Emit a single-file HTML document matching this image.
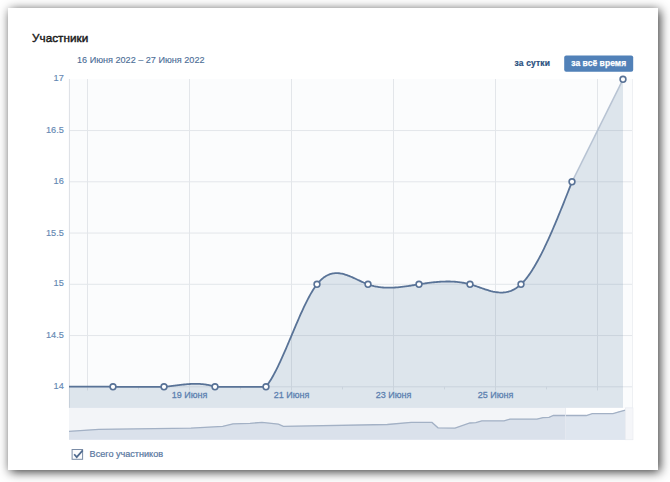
<!DOCTYPE html>
<html><head><meta charset="utf-8"><style>
html,body{margin:0;padding:0;background:#fff;}
body{width:670px;height:482px;overflow:hidden;position:relative;font-family:"Liberation Sans",sans-serif;}
.card{position:absolute;left:8px;top:8px;width:650px;height:462px;background:#fff;box-shadow:2px 2px 10px rgba(0,0,0,0.79);}
svg{position:absolute;left:0;top:0;}
text{font-family:"Liberation Sans",sans-serif;}
</style></head><body>
<div class="card"></div>
<svg width="670" height="482" viewBox="0 0 670 482">
<rect x="69.0" y="79.0" width="564.0" height="328.9" fill="#fbfcfd"/>
<line x1="69.0" x2="633.0" y1="130.55" y2="130.55" stroke="#e3e6ea" stroke-width="1"/>
<line x1="69.0" x2="633.0" y1="181.80" y2="181.80" stroke="#e3e6ea" stroke-width="1"/>
<line x1="69.0" x2="633.0" y1="233.05" y2="233.05" stroke="#e3e6ea" stroke-width="1"/>
<line x1="69.0" x2="633.0" y1="284.30" y2="284.30" stroke="#e3e6ea" stroke-width="1"/>
<line x1="69.0" x2="633.0" y1="335.55" y2="335.55" stroke="#e3e6ea" stroke-width="1"/>
<line x1="69.0" x2="633.0" y1="386.80" y2="386.80" stroke="#e2e5ea" stroke-width="1"/>
<line x1="87.5" x2="87.5" y1="79.0" y2="390.5" stroke="#e3e6ea" stroke-width="1"/>
<line x1="189.5" x2="189.5" y1="79.0" y2="390.5" stroke="#e3e6ea" stroke-width="1"/>
<line x1="291.5" x2="291.5" y1="79.0" y2="390.5" stroke="#e3e6ea" stroke-width="1"/>
<line x1="393.5" x2="393.5" y1="79.0" y2="390.5" stroke="#e3e6ea" stroke-width="1"/>
<line x1="495.5" x2="495.5" y1="79.0" y2="390.5" stroke="#e3e6ea" stroke-width="1"/>
<line x1="597.5" x2="597.5" y1="79.0" y2="390.5" stroke="#e3e6ea" stroke-width="1"/>
<line x1="138.5" x2="138.5" y1="386.80" y2="389.40" stroke="#e3e6ea" stroke-width="1"/>
<line x1="240.5" x2="240.5" y1="386.80" y2="389.40" stroke="#e3e6ea" stroke-width="1"/>
<line x1="342.5" x2="342.5" y1="386.80" y2="389.40" stroke="#e3e6ea" stroke-width="1"/>
<line x1="444.5" x2="444.5" y1="386.80" y2="389.40" stroke="#e3e6ea" stroke-width="1"/>
<line x1="546.5" x2="546.5" y1="386.80" y2="389.40" stroke="#e3e6ea" stroke-width="1"/>
<line x1="69.4" x2="69.4" y1="79.0" y2="407.9" stroke="#dcdfe5" stroke-width="1"/>
<line x1="632.5" x2="632.5" y1="79.0" y2="407.9" stroke="#eef0f3" stroke-width="1"/>
<path d="M69.0,386.71 L70.0,386.70 L71.0,386.69 L72.0,386.67 L73.0,386.66 L74.0,386.65 L75.0,386.64 L76.0,386.63 L77.0,386.62 L78.0,386.61 L79.0,386.60 L80.0,386.59 L81.0,386.59 L82.0,386.58 L83.0,386.57 L84.0,386.57 L85.0,386.56 L86.0,386.55 L87.0,386.55 L88.0,386.55 L89.0,386.54 L90.0,386.54 L91.0,386.54 L92.0,386.54 L93.0,386.54 L94.0,386.55 L95.0,386.55 L96.0,386.55 L97.0,386.56 L98.0,386.56 L99.0,386.57 L100.0,386.58 L101.0,386.59 L102.0,386.60 L103.0,386.61 L104.0,386.62 L105.0,386.64 L106.0,386.65 L107.0,386.67 L108.0,386.69 L109.0,386.71 L110.0,386.73 L111.0,386.75 L112.0,386.77 L113.0,386.80 L114.0,386.80 L115.0,386.80 L116.0,386.80 L117.0,386.80 L118.0,386.80 L119.0,386.80 L120.0,386.80 L121.0,386.80 L122.0,386.80 L123.0,386.80 L124.0,386.80 L125.0,386.80 L126.0,386.80 L127.0,386.80 L128.0,386.80 L129.0,386.80 L130.0,386.80 L131.0,386.80 L132.0,386.80 L133.0,386.80 L134.0,386.80 L135.0,386.80 L136.0,386.80 L137.0,386.80 L138.0,386.80 L139.0,386.80 L140.0,386.80 L141.0,386.80 L142.0,386.80 L143.0,386.80 L144.0,386.80 L145.0,386.80 L146.0,386.80 L147.0,386.80 L148.0,386.80 L149.0,386.80 L150.0,386.80 L151.0,386.80 L152.0,386.80 L153.0,386.80 L154.0,386.80 L155.0,386.80 L156.0,386.80 L157.0,386.80 L158.0,386.80 L159.0,386.80 L160.0,386.80 L161.0,386.80 L162.0,386.80 L163.0,386.80 L164.0,386.80 L165.0,386.71 L166.0,386.60 L167.0,386.50 L168.0,386.39 L169.0,386.28 L170.0,386.16 L171.0,386.04 L172.0,385.92 L173.0,385.79 L174.0,385.67 L175.0,385.54 L176.0,385.42 L177.0,385.29 L178.0,385.17 L179.0,385.05 L180.0,384.93 L181.0,384.82 L182.0,384.71 L183.0,384.60 L184.0,384.49 L185.0,384.40 L186.0,384.31 L187.0,384.22 L188.0,384.14 L189.0,384.07 L190.0,384.01 L191.0,383.96 L192.0,383.91 L193.0,383.88 L194.0,383.85 L195.0,383.84 L196.0,383.84 L197.0,383.85 L198.0,383.88 L199.0,383.91 L200.0,383.96 L201.0,384.03 L202.0,384.11 L203.0,384.21 L204.0,384.32 L205.0,384.45 L206.0,384.60 L207.0,384.76 L208.0,384.95 L209.0,385.15 L210.0,385.37 L211.0,385.61 L212.0,385.88 L213.0,386.16 L214.0,386.47 L215.0,386.80 L216.0,386.80 L217.0,386.80 L218.0,386.80 L219.0,386.80 L220.0,386.80 L221.0,386.80 L222.0,386.80 L223.0,386.80 L224.0,386.80 L225.0,386.80 L226.0,386.80 L227.0,386.80 L228.0,386.80 L229.0,386.80 L230.0,386.80 L231.0,386.80 L232.0,386.80 L233.0,386.80 L234.0,386.80 L235.0,386.80 L236.0,386.80 L237.0,386.80 L238.0,386.80 L239.0,386.80 L240.0,386.80 L241.0,386.80 L242.0,386.80 L243.0,386.80 L244.0,386.80 L245.0,386.80 L246.0,386.80 L247.0,386.80 L248.0,386.80 L249.0,386.80 L250.0,386.80 L251.0,386.80 L252.0,386.80 L253.0,386.80 L254.0,386.80 L255.0,386.80 L256.0,386.80 L257.0,386.80 L258.0,386.80 L259.0,386.80 L260.0,386.80 L261.0,386.80 L262.0,386.80 L263.0,386.80 L264.0,386.80 L265.0,386.80 L266.0,386.80 L267.0,385.48 L268.0,384.09 L269.0,382.61 L270.0,381.05 L271.0,379.43 L272.0,377.73 L273.0,375.97 L274.0,374.14 L275.0,372.25 L276.0,370.31 L277.0,368.32 L278.0,366.28 L279.0,364.19 L280.0,362.06 L281.0,359.88 L282.0,357.68 L283.0,355.44 L284.0,353.17 L285.0,350.88 L286.0,348.56 L287.0,346.23 L288.0,343.88 L289.0,341.52 L290.0,339.15 L291.0,336.78 L292.0,334.40 L293.0,332.03 L294.0,329.66 L295.0,327.29 L296.0,324.94 L297.0,322.61 L298.0,320.29 L299.0,318.00 L300.0,315.73 L301.0,313.49 L302.0,311.28 L303.0,309.11 L304.0,306.97 L305.0,304.88 L306.0,302.83 L307.0,300.84 L308.0,298.89 L309.0,297.00 L310.0,295.17 L311.0,293.40 L312.0,291.70 L313.0,290.07 L314.0,288.51 L315.0,287.03 L316.0,285.62 L317.0,284.30 L318.0,283.06 L319.0,281.91 L320.0,280.84 L321.0,279.85 L322.0,278.94 L323.0,278.10 L324.0,277.34 L325.0,276.65 L326.0,276.02 L327.0,275.47 L328.0,274.98 L329.0,274.55 L330.0,274.18 L331.0,273.87 L332.0,273.62 L333.0,273.42 L334.0,273.28 L335.0,273.18 L336.0,273.14 L337.0,273.14 L338.0,273.18 L339.0,273.26 L340.0,273.39 L341.0,273.55 L342.0,273.74 L343.0,273.97 L344.0,274.24 L345.0,274.53 L346.0,274.84 L347.0,275.18 L348.0,275.55 L349.0,275.93 L350.0,276.33 L351.0,276.75 L352.0,277.19 L353.0,277.63 L354.0,278.09 L355.0,278.55 L356.0,279.02 L357.0,279.49 L358.0,279.96 L359.0,280.43 L360.0,280.90 L361.0,281.37 L362.0,281.82 L363.0,282.27 L364.0,282.71 L365.0,283.13 L366.0,283.54 L367.0,283.93 L368.0,284.30 L369.0,284.65 L370.0,284.98 L371.0,285.28 L372.0,285.57 L373.0,285.83 L374.0,286.08 L375.0,286.30 L376.0,286.51 L377.0,286.70 L378.0,286.87 L379.0,287.03 L380.0,287.16 L381.0,287.28 L382.0,287.39 L383.0,287.48 L384.0,287.55 L385.0,287.61 L386.0,287.66 L387.0,287.69 L388.0,287.71 L389.0,287.72 L390.0,287.71 L391.0,287.69 L392.0,287.66 L393.0,287.63 L394.0,287.57 L395.0,287.51 L396.0,287.45 L397.0,287.37 L398.0,287.28 L399.0,287.18 L400.0,287.08 L401.0,286.97 L402.0,286.86 L403.0,286.73 L404.0,286.60 L405.0,286.47 L406.0,286.33 L407.0,286.19 L408.0,286.04 L409.0,285.89 L410.0,285.74 L411.0,285.58 L412.0,285.42 L413.0,285.26 L414.0,285.10 L415.0,284.94 L416.0,284.78 L417.0,284.62 L418.0,284.46 L419.0,284.30 L420.0,284.14 L421.0,283.99 L422.0,283.83 L423.0,283.68 L424.0,283.53 L425.0,283.39 L426.0,283.25 L427.0,283.11 L428.0,282.97 L429.0,282.84 L430.0,282.72 L431.0,282.60 L432.0,282.48 L433.0,282.37 L434.0,282.26 L435.0,282.16 L436.0,282.07 L437.0,281.98 L438.0,281.90 L439.0,281.82 L440.0,281.75 L441.0,281.69 L442.0,281.64 L443.0,281.59 L444.0,281.55 L445.0,281.53 L446.0,281.51 L447.0,281.49 L448.0,281.49 L449.0,281.50 L450.0,281.52 L451.0,281.54 L452.0,281.58 L453.0,281.63 L454.0,281.69 L455.0,281.75 L456.0,281.83 L457.0,281.93 L458.0,282.03 L459.0,282.15 L460.0,282.28 L461.0,282.42 L462.0,282.57 L463.0,282.74 L464.0,282.92 L465.0,283.11 L466.0,283.32 L467.0,283.54 L468.0,283.78 L469.0,284.03 L470.0,284.30 L471.0,284.58 L472.0,284.88 L473.0,285.19 L474.0,285.50 L475.0,285.83 L476.0,286.17 L477.0,286.51 L478.0,286.86 L479.0,287.21 L480.0,287.56 L481.0,287.91 L482.0,288.26 L483.0,288.60 L484.0,288.94 L485.0,289.28 L486.0,289.61 L487.0,289.92 L488.0,290.23 L489.0,290.53 L490.0,290.81 L491.0,291.08 L492.0,291.32 L493.0,291.56 L494.0,291.77 L495.0,291.96 L496.0,292.12 L497.0,292.26 L498.0,292.38 L499.0,292.47 L500.0,292.53 L501.0,292.55 L502.0,292.55 L503.0,292.51 L504.0,292.44 L505.0,292.33 L506.0,292.18 L507.0,291.99 L508.0,291.76 L509.0,291.49 L510.0,291.17 L511.0,290.81 L512.0,290.40 L513.0,289.94 L514.0,289.42 L515.0,288.86 L516.0,288.24 L517.0,287.57 L518.0,286.84 L519.0,286.06 L520.0,285.21 L521.0,284.30 L522.0,283.33 L523.0,282.30 L524.0,281.20 L525.0,280.05 L526.0,278.84 L527.0,277.57 L528.0,276.25 L529.0,274.87 L530.0,273.44 L531.0,271.96 L532.0,270.43 L533.0,268.85 L534.0,267.22 L535.0,265.54 L536.0,263.82 L537.0,262.05 L538.0,260.24 L539.0,258.39 L540.0,256.49 L541.0,254.56 L542.0,252.59 L543.0,250.58 L544.0,248.54 L545.0,246.46 L546.0,244.35 L547.0,242.21 L548.0,240.03 L549.0,237.83 L550.0,235.60 L551.0,233.34 L552.0,231.05 L553.0,228.74 L554.0,226.41 L555.0,224.05 L556.0,221.67 L557.0,219.28 L558.0,216.86 L559.0,214.43 L560.0,211.98 L561.0,209.52 L562.0,207.04 L563.0,204.55 L564.0,202.05 L565.0,199.54 L566.0,197.02 L567.0,194.50 L568.0,191.97 L569.0,189.43 L570.0,186.89 L571.0,184.34 L572.0,181.80 L623.0,79.30 L623.0,407.9 L69.0,407.9 Z" fill="rgba(91,125,163,0.18)"/>
<path d="M572.0,181.80 L623.0,79.30" fill="none" stroke="#b7c3d3" stroke-width="1.5"/>
<path d="M69.0,386.71 L70.0,386.70 L71.0,386.69 L72.0,386.67 L73.0,386.66 L74.0,386.65 L75.0,386.64 L76.0,386.63 L77.0,386.62 L78.0,386.61 L79.0,386.60 L80.0,386.59 L81.0,386.59 L82.0,386.58 L83.0,386.57 L84.0,386.57 L85.0,386.56 L86.0,386.55 L87.0,386.55 L88.0,386.55 L89.0,386.54 L90.0,386.54 L91.0,386.54 L92.0,386.54 L93.0,386.54 L94.0,386.55 L95.0,386.55 L96.0,386.55 L97.0,386.56 L98.0,386.56 L99.0,386.57 L100.0,386.58 L101.0,386.59 L102.0,386.60 L103.0,386.61 L104.0,386.62 L105.0,386.64 L106.0,386.65 L107.0,386.67 L108.0,386.69 L109.0,386.71 L110.0,386.73 L111.0,386.75 L112.0,386.77 L113.0,386.80 L114.0,386.80 L115.0,386.80 L116.0,386.80 L117.0,386.80 L118.0,386.80 L119.0,386.80 L120.0,386.80 L121.0,386.80 L122.0,386.80 L123.0,386.80 L124.0,386.80 L125.0,386.80 L126.0,386.80 L127.0,386.80 L128.0,386.80 L129.0,386.80 L130.0,386.80 L131.0,386.80 L132.0,386.80 L133.0,386.80 L134.0,386.80 L135.0,386.80 L136.0,386.80 L137.0,386.80 L138.0,386.80 L139.0,386.80 L140.0,386.80 L141.0,386.80 L142.0,386.80 L143.0,386.80 L144.0,386.80 L145.0,386.80 L146.0,386.80 L147.0,386.80 L148.0,386.80 L149.0,386.80 L150.0,386.80 L151.0,386.80 L152.0,386.80 L153.0,386.80 L154.0,386.80 L155.0,386.80 L156.0,386.80 L157.0,386.80 L158.0,386.80 L159.0,386.80 L160.0,386.80 L161.0,386.80 L162.0,386.80 L163.0,386.80 L164.0,386.80 L165.0,386.71 L166.0,386.60 L167.0,386.50 L168.0,386.39 L169.0,386.28 L170.0,386.16 L171.0,386.04 L172.0,385.92 L173.0,385.79 L174.0,385.67 L175.0,385.54 L176.0,385.42 L177.0,385.29 L178.0,385.17 L179.0,385.05 L180.0,384.93 L181.0,384.82 L182.0,384.71 L183.0,384.60 L184.0,384.49 L185.0,384.40 L186.0,384.31 L187.0,384.22 L188.0,384.14 L189.0,384.07 L190.0,384.01 L191.0,383.96 L192.0,383.91 L193.0,383.88 L194.0,383.85 L195.0,383.84 L196.0,383.84 L197.0,383.85 L198.0,383.88 L199.0,383.91 L200.0,383.96 L201.0,384.03 L202.0,384.11 L203.0,384.21 L204.0,384.32 L205.0,384.45 L206.0,384.60 L207.0,384.76 L208.0,384.95 L209.0,385.15 L210.0,385.37 L211.0,385.61 L212.0,385.88 L213.0,386.16 L214.0,386.47 L215.0,386.80 L216.0,386.80 L217.0,386.80 L218.0,386.80 L219.0,386.80 L220.0,386.80 L221.0,386.80 L222.0,386.80 L223.0,386.80 L224.0,386.80 L225.0,386.80 L226.0,386.80 L227.0,386.80 L228.0,386.80 L229.0,386.80 L230.0,386.80 L231.0,386.80 L232.0,386.80 L233.0,386.80 L234.0,386.80 L235.0,386.80 L236.0,386.80 L237.0,386.80 L238.0,386.80 L239.0,386.80 L240.0,386.80 L241.0,386.80 L242.0,386.80 L243.0,386.80 L244.0,386.80 L245.0,386.80 L246.0,386.80 L247.0,386.80 L248.0,386.80 L249.0,386.80 L250.0,386.80 L251.0,386.80 L252.0,386.80 L253.0,386.80 L254.0,386.80 L255.0,386.80 L256.0,386.80 L257.0,386.80 L258.0,386.80 L259.0,386.80 L260.0,386.80 L261.0,386.80 L262.0,386.80 L263.0,386.80 L264.0,386.80 L265.0,386.80 L266.0,386.80 L267.0,385.48 L268.0,384.09 L269.0,382.61 L270.0,381.05 L271.0,379.43 L272.0,377.73 L273.0,375.97 L274.0,374.14 L275.0,372.25 L276.0,370.31 L277.0,368.32 L278.0,366.28 L279.0,364.19 L280.0,362.06 L281.0,359.88 L282.0,357.68 L283.0,355.44 L284.0,353.17 L285.0,350.88 L286.0,348.56 L287.0,346.23 L288.0,343.88 L289.0,341.52 L290.0,339.15 L291.0,336.78 L292.0,334.40 L293.0,332.03 L294.0,329.66 L295.0,327.29 L296.0,324.94 L297.0,322.61 L298.0,320.29 L299.0,318.00 L300.0,315.73 L301.0,313.49 L302.0,311.28 L303.0,309.11 L304.0,306.97 L305.0,304.88 L306.0,302.83 L307.0,300.84 L308.0,298.89 L309.0,297.00 L310.0,295.17 L311.0,293.40 L312.0,291.70 L313.0,290.07 L314.0,288.51 L315.0,287.03 L316.0,285.62 L317.0,284.30 L318.0,283.06 L319.0,281.91 L320.0,280.84 L321.0,279.85 L322.0,278.94 L323.0,278.10 L324.0,277.34 L325.0,276.65 L326.0,276.02 L327.0,275.47 L328.0,274.98 L329.0,274.55 L330.0,274.18 L331.0,273.87 L332.0,273.62 L333.0,273.42 L334.0,273.28 L335.0,273.18 L336.0,273.14 L337.0,273.14 L338.0,273.18 L339.0,273.26 L340.0,273.39 L341.0,273.55 L342.0,273.74 L343.0,273.97 L344.0,274.24 L345.0,274.53 L346.0,274.84 L347.0,275.18 L348.0,275.55 L349.0,275.93 L350.0,276.33 L351.0,276.75 L352.0,277.19 L353.0,277.63 L354.0,278.09 L355.0,278.55 L356.0,279.02 L357.0,279.49 L358.0,279.96 L359.0,280.43 L360.0,280.90 L361.0,281.37 L362.0,281.82 L363.0,282.27 L364.0,282.71 L365.0,283.13 L366.0,283.54 L367.0,283.93 L368.0,284.30 L369.0,284.65 L370.0,284.98 L371.0,285.28 L372.0,285.57 L373.0,285.83 L374.0,286.08 L375.0,286.30 L376.0,286.51 L377.0,286.70 L378.0,286.87 L379.0,287.03 L380.0,287.16 L381.0,287.28 L382.0,287.39 L383.0,287.48 L384.0,287.55 L385.0,287.61 L386.0,287.66 L387.0,287.69 L388.0,287.71 L389.0,287.72 L390.0,287.71 L391.0,287.69 L392.0,287.66 L393.0,287.63 L394.0,287.57 L395.0,287.51 L396.0,287.45 L397.0,287.37 L398.0,287.28 L399.0,287.18 L400.0,287.08 L401.0,286.97 L402.0,286.86 L403.0,286.73 L404.0,286.60 L405.0,286.47 L406.0,286.33 L407.0,286.19 L408.0,286.04 L409.0,285.89 L410.0,285.74 L411.0,285.58 L412.0,285.42 L413.0,285.26 L414.0,285.10 L415.0,284.94 L416.0,284.78 L417.0,284.62 L418.0,284.46 L419.0,284.30 L420.0,284.14 L421.0,283.99 L422.0,283.83 L423.0,283.68 L424.0,283.53 L425.0,283.39 L426.0,283.25 L427.0,283.11 L428.0,282.97 L429.0,282.84 L430.0,282.72 L431.0,282.60 L432.0,282.48 L433.0,282.37 L434.0,282.26 L435.0,282.16 L436.0,282.07 L437.0,281.98 L438.0,281.90 L439.0,281.82 L440.0,281.75 L441.0,281.69 L442.0,281.64 L443.0,281.59 L444.0,281.55 L445.0,281.53 L446.0,281.51 L447.0,281.49 L448.0,281.49 L449.0,281.50 L450.0,281.52 L451.0,281.54 L452.0,281.58 L453.0,281.63 L454.0,281.69 L455.0,281.75 L456.0,281.83 L457.0,281.93 L458.0,282.03 L459.0,282.15 L460.0,282.28 L461.0,282.42 L462.0,282.57 L463.0,282.74 L464.0,282.92 L465.0,283.11 L466.0,283.32 L467.0,283.54 L468.0,283.78 L469.0,284.03 L470.0,284.30 L471.0,284.58 L472.0,284.88 L473.0,285.19 L474.0,285.50 L475.0,285.83 L476.0,286.17 L477.0,286.51 L478.0,286.86 L479.0,287.21 L480.0,287.56 L481.0,287.91 L482.0,288.26 L483.0,288.60 L484.0,288.94 L485.0,289.28 L486.0,289.61 L487.0,289.92 L488.0,290.23 L489.0,290.53 L490.0,290.81 L491.0,291.08 L492.0,291.32 L493.0,291.56 L494.0,291.77 L495.0,291.96 L496.0,292.12 L497.0,292.26 L498.0,292.38 L499.0,292.47 L500.0,292.53 L501.0,292.55 L502.0,292.55 L503.0,292.51 L504.0,292.44 L505.0,292.33 L506.0,292.18 L507.0,291.99 L508.0,291.76 L509.0,291.49 L510.0,291.17 L511.0,290.81 L512.0,290.40 L513.0,289.94 L514.0,289.42 L515.0,288.86 L516.0,288.24 L517.0,287.57 L518.0,286.84 L519.0,286.06 L520.0,285.21 L521.0,284.30 L522.0,283.33 L523.0,282.30 L524.0,281.20 L525.0,280.05 L526.0,278.84 L527.0,277.57 L528.0,276.25 L529.0,274.87 L530.0,273.44 L531.0,271.96 L532.0,270.43 L533.0,268.85 L534.0,267.22 L535.0,265.54 L536.0,263.82 L537.0,262.05 L538.0,260.24 L539.0,258.39 L540.0,256.49 L541.0,254.56 L542.0,252.59 L543.0,250.58 L544.0,248.54 L545.0,246.46 L546.0,244.35 L547.0,242.21 L548.0,240.03 L549.0,237.83 L550.0,235.60 L551.0,233.34 L552.0,231.05 L553.0,228.74 L554.0,226.41 L555.0,224.05 L556.0,221.67 L557.0,219.28 L558.0,216.86 L559.0,214.43 L560.0,211.98 L561.0,209.52 L562.0,207.04 L563.0,204.55 L564.0,202.05 L565.0,199.54 L566.0,197.02 L567.0,194.50 L568.0,191.97 L569.0,189.43 L570.0,186.89 L571.0,184.34 L572.0,181.80" fill="none" stroke="#597397" stroke-width="1.8" stroke-linejoin="round"/>
<circle cx="113.0" cy="386.80" r="2.9" fill="#fff" stroke="#597397" stroke-width="1.6"/>
<circle cx="164.0" cy="386.80" r="2.9" fill="#fff" stroke="#597397" stroke-width="1.6"/>
<circle cx="215.0" cy="386.80" r="2.9" fill="#fff" stroke="#597397" stroke-width="1.6"/>
<circle cx="266.0" cy="386.80" r="2.9" fill="#fff" stroke="#597397" stroke-width="1.6"/>
<circle cx="317.0" cy="284.30" r="2.9" fill="#fff" stroke="#597397" stroke-width="1.6"/>
<circle cx="368.0" cy="284.30" r="2.9" fill="#fff" stroke="#597397" stroke-width="1.6"/>
<circle cx="419.0" cy="284.30" r="2.9" fill="#fff" stroke="#597397" stroke-width="1.6"/>
<circle cx="470.0" cy="284.30" r="2.9" fill="#fff" stroke="#597397" stroke-width="1.6"/>
<circle cx="521.0" cy="284.30" r="2.9" fill="#fff" stroke="#597397" stroke-width="1.6"/>
<circle cx="572.0" cy="181.80" r="2.9" fill="#fff" stroke="#597397" stroke-width="1.6"/>
<circle cx="623.0" cy="79.30" r="2.9" fill="#fff" stroke="#597397" stroke-width="1.6"/>
<text x="63.8" y="81.20" text-anchor="end" font-size="9.2" fill="#6488b3" stroke="#6488b3" stroke-width="0.15">17</text>
<text x="63.8" y="132.95" text-anchor="end" font-size="9.2" fill="#6488b3" stroke="#6488b3" stroke-width="0.15">16.5</text>
<text x="63.8" y="184.00" text-anchor="end" font-size="9.2" fill="#6488b3" stroke="#6488b3" stroke-width="0.15">16</text>
<text x="63.8" y="235.75" text-anchor="end" font-size="9.2" fill="#6488b3" stroke="#6488b3" stroke-width="0.15">15.5</text>
<text x="63.8" y="286.40" text-anchor="end" font-size="9.2" fill="#6488b3" stroke="#6488b3" stroke-width="0.15">15</text>
<text x="63.8" y="337.55" text-anchor="end" font-size="9.2" fill="#6488b3" stroke="#6488b3" stroke-width="0.15">14.5</text>
<text x="63.8" y="389.30" text-anchor="end" font-size="9.2" fill="#6488b3" stroke="#6488b3" stroke-width="0.15">14</text>
<text x="189.5" y="398.2" text-anchor="middle" font-size="9" fill="#5c81b0" stroke="#5c81b0" stroke-width="0.28">19 Июня</text>
<text x="291.5" y="398.2" text-anchor="middle" font-size="9" fill="#5c81b0" stroke="#5c81b0" stroke-width="0.28">21 Июня</text>
<text x="393.5" y="398.2" text-anchor="middle" font-size="9" fill="#5c81b0" stroke="#5c81b0" stroke-width="0.28">23 Июня</text>
<text x="495.5" y="398.2" text-anchor="middle" font-size="9" fill="#5c81b0" stroke="#5c81b0" stroke-width="0.28">25 Июня</text>
<rect x="69.0" y="407.9" width="564.0" height="31.900000000000034" fill="#f3f5f8"/>
<rect x="565.5" y="407.9" width="59.9" height="31.900000000000034" fill="#ffffff"/>
<path d="M69,431 L98.8,429 L191,427.8 L222.7,426 L233,423.6 L250,423 L262,422.1 L278.4,423.9 L283.4,426 L387.3,424.2 L411.2,422.1 L432,422.1 L438,427.5 L455,427.8 L469.9,422.7 L475.8,422.4 L481.8,420.6 L504,420.6 L510,418.8 L537,418.8 L543,417.3 L549,417 L553.4,415.2 L586.3,415.2 L592.2,413.4 L613,413.4 L619,411.6 L625.4,409.9 L625.4,439.8 L69.0,439.8 Z" fill="#dae1eb"/>
<clipPath id="w"><rect x="565.5" y="407.9" width="59.9" height="31.900000000000034"/></clipPath>
<path d="M69,431 L98.8,429 L191,427.8 L222.7,426 L233,423.6 L250,423 L262,422.1 L278.4,423.9 L283.4,426 L387.3,424.2 L411.2,422.1 L432,422.1 L438,427.5 L455,427.8 L469.9,422.7 L475.8,422.4 L481.8,420.6 L504,420.6 L510,418.8 L537,418.8 L543,417.3 L549,417 L553.4,415.2 L586.3,415.2 L592.2,413.4 L613,413.4 L619,411.6 L625.4,409.9 L625.4,439.8 L69.0,439.8 Z" fill="#dfe6ef" clip-path="url(#w)"/>
<path d="M69,431 L98.8,429 L191,427.8 L222.7,426 L233,423.6 L250,423 L262,422.1 L278.4,423.9 L283.4,426 L387.3,424.2 L411.2,422.1 L432,422.1 L438,427.5 L455,427.8 L469.9,422.7 L475.8,422.4 L481.8,420.6 L504,420.6 L510,418.8 L537,418.8 L543,417.3 L549,417 L553.4,415.2 L586.3,415.2 L592.2,413.4 L613,413.4 L619,411.6 L625.4,409.9" fill="none" stroke="#a3b1c5" stroke-width="1.3" transform="translate(0,0.3)"/>
<line x1="565.5" x2="565.5" y1="407.9" y2="439.8" stroke="#e6eaf0" stroke-width="0.8"/>
<rect x="625.4" y="407.9" width="7.600000000000023" height="31.900000000000034" fill="#f5f6f9" stroke="#e6e9ee" stroke-width="0.6"/>
<rect x="72.1" y="449.5" width="10.5" height="9.8" fill="#fcfcfd" stroke="#7a8ca6" stroke-width="1"/>
<path d="M74.2,454.3 L76.7,457.1 L82.7,450.4" fill="none" stroke="#506a8e" stroke-width="1.7"/>
<text x="89.6" y="456.9" font-size="9.1" fill="#59789f" stroke="#59789f" stroke-width="0.22">Всего участников</text>
<text x="32" y="41.65" font-size="11.7" letter-spacing="0.06" fill="#1a1a1a" stroke="#1a1a1a" stroke-width="0.45" stroke-linejoin="round">Участники</text>
<text x="77" y="63.0" font-size="9.1" fill="#4a6c96" stroke="#4a6c96" stroke-width="0.12">16 Июня 2022 – 27 Июня 2022</text>
<text x="514.5" y="66.1" font-size="8.5" letter-spacing="0.15" font-weight="bold" fill="#2a5080" stroke="#2a5080" stroke-width="0.2">за сутки</text>
<rect x="564.2" y="55.4" width="69" height="16.4" rx="2" fill="#5181b8"/>
<text x="598.7" y="66.1" font-size="8.5" letter-spacing="0.05" font-weight="bold" fill="#ffffff" stroke="#ffffff" stroke-width="0.25" text-anchor="middle">за всё время</text>
</svg>
</body></html>
